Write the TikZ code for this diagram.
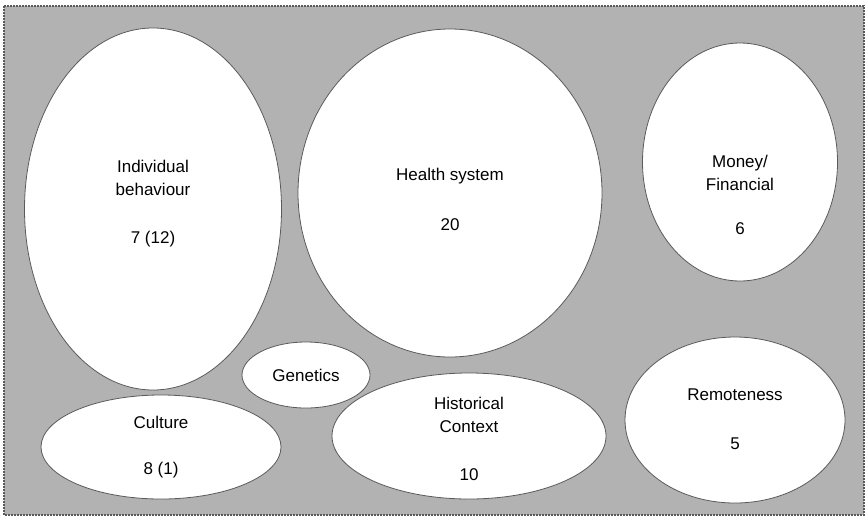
\documentclass[tikz,border=0pt]{standalone}
\usepackage{fontspec}
\setmainfont{Liberation Sans}
\usetikzlibrary{shapes.geometric}

\definecolor{panelgray}{RGB}{178,178,178}
\definecolor{rimgray}{RGB}{90,90,90}

\tikzset{
  blob/.style={ellipse, draw=rimgray, line width=0.8pt, fill=white, inner sep=0pt},
  txt/.style={align=center, font=\fontsize{17}{23}\selectfont, inner sep=0pt}
}

\begin{document}
\begin{tikzpicture}[x=1pt, y=-1pt]

	\useasboundingbox (0,0) rectangle (866,520);
	\draw [fill=panelgray, draw=rimgray, line width=1.6pt, dash pattern=on 2pt off 1pt] (4,6) rectangle (864,515);

	% the bubbles
	\node [blob, minimum width=257pt, minimum height=362pt] (indiv) at (153,209) {};
	\node [blob, minimum width=304pt, minimum height=328pt] (health) at (450,193) {};
	\node [blob, minimum width=195pt, minimum height=238pt] (money) at (740,162) {};
	\node [blob, minimum width=128pt, minimum height=66pt] (genet) at (306,375) {};
	\node [blob, minimum width=240pt, minimum height=104pt] (cult) at (161,447) {};
	\node [blob, minimum width=274pt, minimum height=126pt] (hist) at (469,436) {};
	\node [blob, minimum width=220pt, minimum height=166pt] (remote) at (735,420) {};

	% labels and counts
	\node [txt] (indivT) at (153,178) {Individual\\behaviour};
	\node [txt] (indivN) at (153,239) {7 (12)};
	\node [txt] (healthT) at (450,176) {Health system};
	\node [txt] (healthN) at (450,225) {20};
	\node [txt] (moneyT) at (740,173) {Money/\\Financial};
	\node [txt] (moneyN) at (740,229) {6};
	\node [txt] (genetT) at (306,375) {Genetics};
	\node [txt] (cultT) at (161,422) {Culture};
	\node [txt] (cultN) at (161,470) {8 (1)};
	\node [txt] (histT) at (469,415) {Historical\\Context};
	\node [txt] (histN) at (469,475) {10};
	\node [txt] (remoteT) at (735,395) {Remoteness};
	\node [txt] (remoteN) at (735,444) {5};

\end{tikzpicture}
\end{document}
